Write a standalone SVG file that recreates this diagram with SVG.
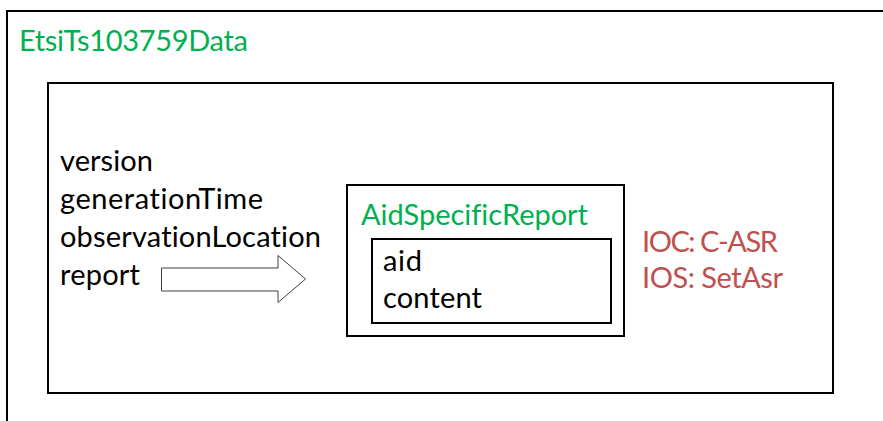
<svg xmlns="http://www.w3.org/2000/svg" width="883" height="421" viewBox="0 0 883 421">
  <style>
    .box { fill: #ffffff; stroke: #000000; stroke-width: 2; }
    .t { font-family: Lato, "Open Sans", "Liberation Sans", sans-serif; font-size: 29px; fill: #000000; font-variant-ligatures: none; font-feature-settings: "liga" 0, "clig" 0, "dlig" 0; }
    .g { fill: #00B050; }
    .r { fill: #C0504D; }
    .arrow { fill: #ffffff; stroke: #404040; stroke-width: 1; }
  </style>
  <rect x="0" y="0" width="883" height="421" fill="#ffffff"/>
  <g id="etsiTs103759Data">
    <rect class="box" x="7" y="11" width="900" height="450"/>
    <text class="t g" x="19" y="51" textLength="229">EtsiTs103759Data</text>
  </g>
  <g id="dataContent">
    <rect class="box" x="48" y="83" width="785" height="310"/>
    <text class="t" x="60" y="171" textLength="93">version</text>
    <text class="t" x="60" y="209" textLength="203">generationTime</text>
    <text class="t" x="60" y="247" textLength="261">observationLocation</text>
    <text class="t" x="60" y="285" textLength="80">report</text>
  </g>
  <g id="aidSpecificReport">
    <rect class="box" x="347" y="185" width="277" height="151"/>
    <text class="t g" x="361" y="225" textLength="227">AidSpecificReport</text>
    <rect class="box" x="372" y="239" width="239" height="84"/>
    <text class="t" x="383" y="271" textLength="39">aid</text>
    <text class="t" x="383" y="308" textLength="99">content</text>
  </g>
  <g id="iocInfo">
    <text class="t r" x="642" y="252" textLength="136">IOC: C-ASR</text>
    <text class="t r" x="642" y="288" textLength="141">IOS: SetAsr</text>
  </g>
  <g id="connectors">
    <path class="arrow" d="M161.5,268 H278 V255.5 L305.5,279 L278,302.5 V291 H161.5 Z"/>
  </g>
</svg>
